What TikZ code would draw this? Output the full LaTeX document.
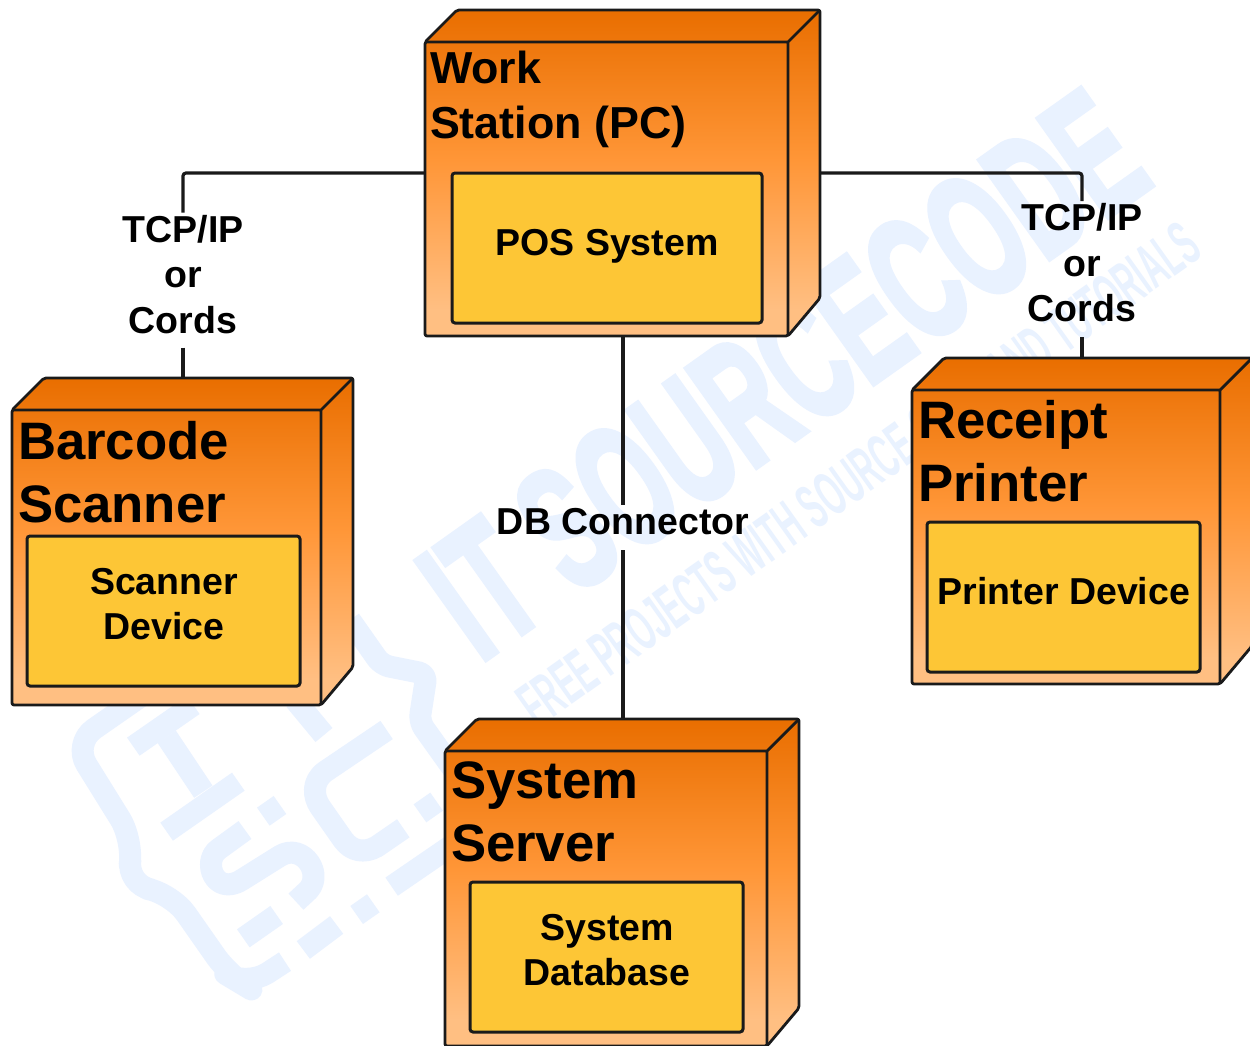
\documentclass[tikz,border=0pt]{standalone}
\usepackage{fontspec}
\usepackage{graphicx}
\setmainfont{Liberation Sans}
\newfontfamily\wmfont[BoldFeatures={FakeBold=3.5}]{Liberation Sans}
\newfontfamily\wmsubfont{Liberation Sans}
\definecolor{gradtop}{RGB}{233,110,0}
\definecolor{gradmid}{RGB}{255,150,55}
\definecolor{gradlow}{RGB}{255,191,130}
\definecolor{innerfill}{RGB}{253,198,54}
\definecolor{edge}{RGB}{26,26,26}
\definecolor{wmblue}{RGB}{233,242,255}
\pgfdeclareverticalshading{devgrad}{100bp}{color(0bp)=(gradlow); color(29bp)=(gradlow); color(52bp)=(gradmid); color(75bp)=(gradtop); color(100bp)=(gradtop)}
\tikzset{
  frontface/.style={inner sep=0pt,outer sep=0pt,rectangle},
  edgeline/.style={draw=edge,line width=2.8pt,line join=round,rounded corners=2pt},
  innerbox/.style={draw=edge,line width=3pt,fill=innerfill,rounded corners=3pt,inner sep=0pt,outer sep=0pt,rectangle},
  conn/.style={draw=edge,line width=3.2pt,rounded corners=3pt},
  titletext/.style={inner sep=0pt,outer sep=0pt,align=left,font=\bfseries\fontsize{52.7}{63}\selectfont,text=black},
  smalltitle/.style={inner sep=0pt,outer sep=0pt,align=left,font=\bfseries\fontsize{44.8}{55}\selectfont,text=black},
  bodytext/.style={inner sep=0pt,outer sep=0pt,align=center,font=\bfseries\fontsize{37.5}{45.5}\selectfont,text=black},
  linklabel/.style={inner sep=0pt,outer sep=0pt,align=center,font=\bfseries\fontsize{37.5}{45.5}\selectfont,text=black,rectangle},
  wmstroke/.style={draw=wmblue,line width=22pt,line join=round},
  wmbar/.style={draw=wmblue,line width=22pt},
}
\newcommand{\devbox}[7]{%
  \node[frontface,minimum width=#4pt,minimum height=#5pt] (#1) at (#2,#3) {};
  \path (#1.north west) ++(#6,-#7) coordinate (#1nw);
  \path (#1.north east) ++(#6,-#7) coordinate (#1ne);
  \path (#1.south east) ++(#6,-38) coordinate (#1se);
  \shade[shading=devgrad,rounded corners=2pt] (#1.north west) -- (#1nw) -- (#1ne) -- (#1se) -- (#1.south east) -- (#1.south west) -- cycle;
  \draw[edgeline] (#1.north west) -- (#1nw) -- (#1ne) -- (#1se) -- (#1.south east) -- (#1.south west) -- cycle;
  \draw[edgeline,rounded corners=0pt] (#1.north west) -- (#1.north east) -- (#1.south east) (#1.north east) -- (#1ne);
}
\begin{document}
\begin{tikzpicture}[x=1pt,y=-1pt]
\useasboundingbox (0,0) rectangle (1250,1045);
\fill[white] (0,0) rectangle (1250,1045);

% watermark
\node[inner sep=0pt,anchor=base,rotate=35.4,text=wmblue] (wmmain) at (818,423)
  {\resizebox{830pt}{122pt}{\fontsize{170}{170}\wmfont\bfseries IT SOURCECODE}};
\node[inner sep=0pt,anchor=base,rotate=35.4,text=wmblue] (wmsub) at (871,492)
  {\resizebox{818pt}{44pt}{\fontsize{60}{60}\wmsubfont\bfseries FREE PROJECTS WITH SOURCE CODE AND TUTORIALS}};
\begin{scope}[shift={(50,600)},x=0.3333pt,y=-0.3333pt]
  \draw[wmstroke,rounded corners=8pt] (900,60) -- (995,195) -- (1130,222) -- (1108,365) -- (1215,515);
  \draw[wmstroke,rounded corners=25pt] (300,270) -- (70,430) -- (250,720) -- (230,855) -- (365,880) -- (540,1130) -- (590,1160) -- (705,1085);
  \draw[wmbar] (250,440) -- (430,315);
  \draw[wmbar] (350,410) -- (460,575);
  \draw[wmbar] (350,695) -- (565,545);
  \draw[wmbar] (735,300) -- (822,405);
  \draw[wmbar] (640,650) -- (690,615);
  \draw[wmstroke] (585,690) -- (505,748) .. controls (455,785) and (495,890) .. (575,840) -- (690,768) .. controls (760,725) and (830,830) .. (765,880) -- (738,905);
  \draw[wmbar] (580,1015) -- (680,945);
  \draw[wmbar] (760,1050) -- (860,975);
  \draw[wmbar] (920,945) -- (970,910);
  \draw[wmstroke] (1010,390) -- (825,515) .. controls (785,545) and (790,590) .. (810,620) -- (880,720) .. controls (905,755) and (945,760) .. (980,740) -- (1060,685);
  \draw[wmbar] (1110,640) -- (1160,605);
  \draw[wmbar] (1025,860) -- (1200,740);
\end{scope}

% devices
\devbox{ws}{606.5}{189}{363}{294}{32}{32}
\devbox{bc}{166.5}{557.5}{309}{295}{32}{32}
\devbox{rp}{1066}{537}{308}{294}{32}{32}
\devbox{ss}{606}{898.5}{322}{295}{32}{32}

\node[innerbox,minimum width=310pt,minimum height=150pt] (wsin) at (607,248) {};
\node[innerbox,minimum width=273pt,minimum height=150pt] (bcin) at (163.5,611) {};
\node[innerbox,minimum width=273pt,minimum height=150pt] (rpin) at (1063.5,597) {};
\node[innerbox,minimum width=273pt,minimum height=150pt] (ssin) at (606.5,957) {};

\node[smalltitle,anchor=north west] (wst) at (430,51) {Work\\Station (PC)};
\node[titletext,anchor=north west] (bct) at (18,421) {Barcode\\Scanner};
\node[titletext,anchor=north west] (rpt) at (918,400) {Receipt\\Printer};
\node[titletext,anchor=north west] (sst) at (451,762) {System\\Server};

\node[bodytext] (wsl) at (607,246) {POS System};
\node[bodytext] (bcl) at (164,604) {Scanner\\Device};
\node[bodytext] (rpl) at (1064,591) {Printer Device};
\node[bodytext] (ssl) at (607,950) {System\\Database};

% connectors
\node[linklabel] (tcpl) at (183,274.5) {TCP/IP\\or\\Cords};
\node[linklabel] (tcpr) at (1082,263) {TCP/IP\\or\\Cords};
\node[linklabel] (dbl) at (623,522) {DB Connector};
\path (tcpl.center) ++(0,-62) coordinate (tcpltop) ++(0,135) coordinate (tcplbot);
\path (tcpr.center) ++(0,-62) coordinate (tcprtop) ++(0,136) coordinate (tcprbot);
\path (dbl.center) ++(0,-17) coordinate (dbltop) ++(0,45) coordinate (dblbot);
\coordinate (wsright) at (820,173);
\draw[conn] (wsin.north -| ws.west) -| (tcpltop);
\draw[conn] (tcplbot) -- (tcplbot |- bcnw);
\draw[conn] (wsright) -| (tcprtop);
\draw[conn] (tcprbot) -- (tcprbot |- rpnw);
\draw[conn] (dbltop |- ws.south) -- (dbltop);
\draw[conn] (dblbot) -- (dblbot |- ssnw);
\end{tikzpicture}
\end{document}
